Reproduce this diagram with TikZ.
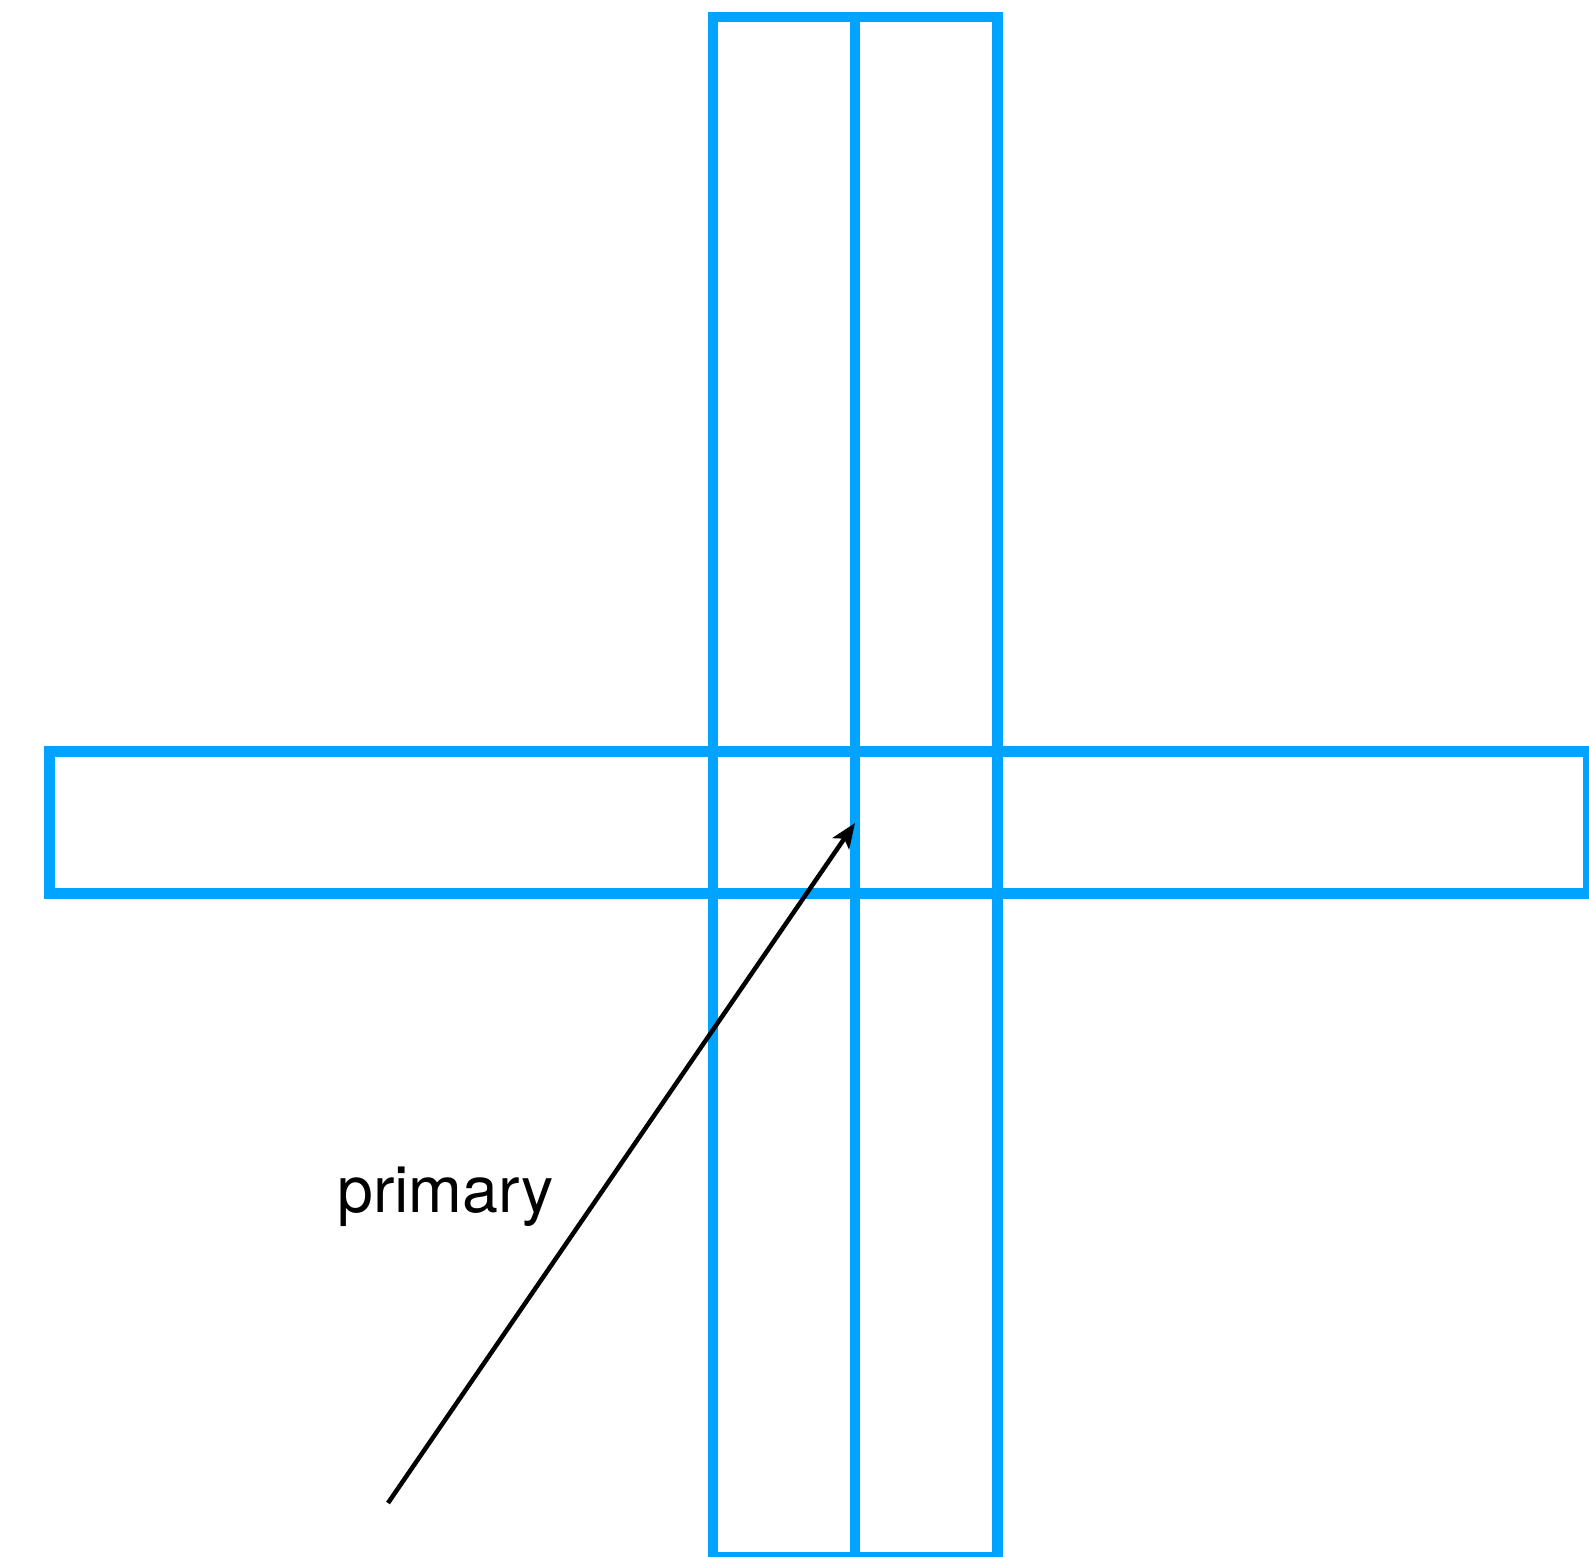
\documentclass[tikz,border=0pt]{standalone}
\usepackage{fontspec}
\setmainfont{TeX Gyre Heros}
\usetikzlibrary{positioning, arrows.meta}
\definecolor{slabblue}{HTML}{00A4FF}

\begin{document}
\begin{tikzpicture}[
	x=1pt, y=-1pt,
	slab/.style={
		draw=slabblue,
		line width=10.5pt
	},
	ray/.style={
		draw=black,
		line width=4.5pt,
		-{Stealth[length=25pt, width=20pt, inset=6pt]}
	},
	label/.style={
		font=\fontsize{64.5}{77}\selectfont,
		anchor=base west,
		inner sep=0pt
	}
	]
	\useasboundingbox (0,0) rectangle (1589,1556);

	% vertical slabs
	\draw[slab] (713,17) rectangle (855,1557);
	\draw[slab] (855,17) rectangle (997.5,1557);
	% horizontal slab
	\draw[slab] (49.5,751.5) rectangle (1588.5,893.5);

	\coordinate (source) at (388,1503);
	\coordinate (target) at (855,823);
	\draw[ray] (source) -- (target);

	\node[label] (primary) at (337,1212) {primary};
\end{tikzpicture}
\end{document}
